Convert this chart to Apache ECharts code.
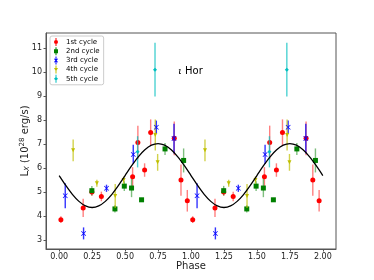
<!DOCTYPE html>
<html><head><meta charset="utf-8">
<script src="https://cdn.jsdelivr.net/npm/echarts@6/dist/echarts.min.js"></script>
<style>html,body{margin:0;padding:0;background:#fff}#c{width:374px;height:280px}</style>
</head><body><div id="c"></div>
<script>
const xTicks = [0, 0.25, 0.5, 0.75, 1.0, 1.25, 1.5, 1.75, 2.0];
const yTicks = [3, 4, 5, 6, 7, 8, 9, 10, 11];
const cycleNames = ['1st cycle', '2nd cycle', '3rd cycle', '4th cycle', '5th cycle'];

const c1Phase = [0.013, 0.182, 0.248, 0.320, 0.557, 0.597, 0.648, 0.694, 0.873, 0.924, 0.972];
const c1Value = [3.86, 4.35, 5.01, 4.83, 5.65, 7.08, 5.93, 7.49, 7.25, 5.51, 4.65];
const c1Err   = [0.14, 0.38, 0.15, 0.20, 0.40, 0.70, 0.28, 0.55, 0.70, 0.65, 0.45];

const c2Phase = [0.248, 0.423, 0.494, 0.549, 0.625, 0.803, 0.944];
const c2Value = [5.07, 4.31, 5.26, 5.18, 4.69, 6.81, 6.33];
const c2Err   = [0.20, 0.15, 0.20, 0.38, 0.08, 0.25, 0.50];

const c3Phase = [0.046, 0.185, 0.359, 0.562, 0.737, 0.871];
const c3Value = [4.86, 3.29, 5.17, 6.58, 7.71, 7.24];
const c3Err   = [0.52, 0.25, 0.15, 0.40, 0.28, 0.62];

const c4Phase = [0.106, 0.286, 0.425, 0.489, 0.729, 0.747];
const c4Value = [6.75, 5.38, 4.85, 5.51, 7.39, 6.25];
const c4Err   = [0.45, 0.15, 0.50, 0.15, 0.65, 0.35];

const c5Phase = [0.595, 0.727];
const c5Value = [6.69, 10.11];
const c5Err   = [0.65, 1.12];

const curvePhase = [0, 0.05, 0.1, 0.15, 0.2, 0.25, 0.3, 0.35, 0.4, 0.45, 0.5, 0.55, 0.6, 0.65, 0.7, 0.75, 0.8, 0.85, 0.9, 0.95,
  1.0, 1.05, 1.1, 1.15, 1.2, 1.25, 1.3, 1.35, 1.4, 1.45, 1.5, 1.55, 1.6, 1.65, 1.7, 1.75, 1.8, 1.85, 1.9, 1.95, 2.0];
const curveValue = [5.70, 5.289, 4.918, 4.624, 4.435, 4.37, 4.435, 4.624, 4.918, 5.289, 5.70, 6.111, 6.482, 6.776, 6.965, 7.03, 6.965, 6.776, 6.482, 6.111,
  5.70, 5.289, 4.918, 4.624, 4.435, 4.37, 4.435, 4.624, 4.918, 5.289, 5.70, 6.111, 6.482, 6.776, 6.965, 7.03, 6.965, 6.776, 6.482, 6.111, 5.70];

const cycles = [
  {p: c1Phase, v: c1Value, e: c1Err, color: '#ff0000', barOp: 0.5, symbol: 'circle', size: 5, rot: 0},
  {p: c2Phase, v: c2Value, e: c2Err, color: '#008000', barOp: 0.5, symbol: 'rect', size: 5, rot: 0},
  {p: c3Phase, v: c3Value, e: c3Err, color: '#0000ff', barOp: 0.8, symbol: 'path://M0,1 L1,0 L5,4 L9,0 L10,1 L6,5 L10,9 L9,10 L5,6 L1,10 L0,9 L4,5 Z', size: 5, rot: 0},
  {p: c4Phase, v: c4Value, e: c4Err, color: '#bfbf00', barOp: 0.7, symbol: 'triangle', size: 4, rot: 180},
  {p: c5Phase, v: c5Value, e: c5Err, color: '#00bfbf', barOp: 0.7, symbol: 'diamond', size: 4, rot: 0}
];

const legendIcons = [
  'path://M4.5,0 L5.5,0 L5.5,8 L4.5,8 Z M7,4 A2,2 0 1,1 3,4 A2,2 0 1,1 7,4 Z',
  'path://M4.5,0 L5.5,0 L5.5,8 L4.5,8 Z M3,2 L7,2 L7,6 L3,6 Z',
  'path://M4.5,0 L5.5,0 L5.5,8 L4.5,8 Z M3,2.5 L3.7,2 L5,3.3 L6.3,2 L7,2.5 L5.6,4 L7,5.5 L6.3,6 L5,4.7 L3.7,6 L3,5.5 L4.4,4 Z',
  'path://M4.5,0 L5.5,0 L5.5,8 L4.5,8 Z M3,2.5 L7,2.5 L5,6 Z',
  'path://M4.5,0 L5.5,0 L5.5,8 L4.5,8 Z M5,2 L7,4 L5,6 L3,4 Z'
];

const series = [];
cycles.forEach((c, i) => {
  const pts = [];
  for (let k = 0; k < c.p.length; k++) pts.push([c.p[k], c.v[k], c.e[k]]);
  for (let k = 0; k < c.p.length; k++) pts.push([c.p[k] + 1, c.v[k], c.e[k]]);
  series.push({
    name: cycleNames[i], type: 'custom', data: pts, z: 2 + i,
    itemStyle: {color: c.color},
    renderItem: function (params, api) {
      const x = api.value(0), y = api.value(1), e = api.value(2);
      const t = api.coord([x, y + e]), b = api.coord([x, y - e]);
      return {type: 'line', shape: {x1: t[0], y1: t[1], x2: b[0], y2: b[1]},
        style: {stroke: c.color, lineWidth: 1.4, opacity: c.barOp}};
    }
  });
  series.push({
    name: cycleNames[i], type: 'scatter', data: pts, z: 3 + i,
    symbol: c.symbol, symbolSize: c.size, symbolRotate: c.rot,
    itemStyle: {color: c.color, opacity: 1}
  });
});
series.push({
  type: 'line', data: curvePhase.map((p, k) => [p, curveValue[k]]),
  showSymbol: false, smooth: 0.3, z: 20, silent: true,
  lineStyle: {color: '#000', width: 1.3}
});

const chart = echarts.init(document.getElementById('c'), null, {renderer: 'canvas'});
chart.setOption({
  animation: false,
  backgroundColor: '#fff',
  textStyle: {fontFamily: 'DejaVu Sans'},
  title: {
    text: '{i|ι} Hor', left: 173, top: 61,
    textStyle: {fontSize: 10, fontWeight: 'normal', color: '#000', fontFamily: 'DejaVu Sans',
      rich: {i: {fontSize: 10, fontStyle: 'italic', fontFamily: 'DejaVu Serif', color: '#000'}}}
  },
  legend: {
    orient: 'vertical', left: 50, top: 36, padding: [2, 4, 2, 4],
    itemWidth: 10, itemHeight: 8, itemGap: 1.2,
    borderColor: '#cccccc', borderWidth: 1, borderRadius: 2, backgroundColor: '#fff',
    textStyle: {fontSize: 7, color: '#000', lineHeight: 8, fontFamily: 'DejaVu Sans'},
    data: cycleNames.map((n, i) => ({name: n, icon: legendIcons[i], itemStyle: {color: cycles[i].color}}))
  },
  grid: {left: 46, top: 33, width: 290, height: 216, show: true, borderColor: '#555', borderWidth: 1, containLabel: false},
  xAxis: {
    type: 'value', min: -0.1, max: 2.1,
    name: 'Phase', nameLocation: 'middle', nameGap: 12, nameMoveOverlap: false,
    nameTextStyle: {fontSize: 10, color: '#222', verticalAlign: 'top'},
    axisLine: {show: true, onZero: false, lineStyle: {color: '#555', width: 1}},
    splitLine: {show: false},
    axisTick: {show: true, length: 2.5, customValues: xTicks, lineStyle: {color: '#555'}},
    axisLabel: {customValues: xTicks, fontSize: 8, color: '#222', margin: 4, formatter: v => v.toFixed(2)}
  },
  yAxis: {
    type: 'value', min: 2.64, max: 11.64,
    name: '{a|L}{s|X}{a| (10}{p|28}{a| erg/s)}', nameLocation: 'middle', nameGap: 15, nameRotate: 90, nameMoveOverlap: false,
    nameTextStyle: {color: '#222', rich: {
      a: {fontSize: 10, lineHeight: 12, color: '#222'},
      s: {fontSize: 7, lineHeight: 12, verticalAlign: 'bottom', color: '#222', fontStyle: 'italic'},
      p: {fontSize: 7, lineHeight: 12, verticalAlign: 'top', color: '#222'}
    }},
    axisLine: {show: true, onZero: false, lineStyle: {color: '#555', width: 1}},
    splitLine: {show: false},
    axisTick: {show: true, length: 2.5, customValues: yTicks, lineStyle: {color: '#555'}},
    axisLabel: {customValues: yTicks, fontSize: 8, color: '#222', margin: 4, formatter: v => String(v)}
  },
  series: series
});
</script></body></html>
